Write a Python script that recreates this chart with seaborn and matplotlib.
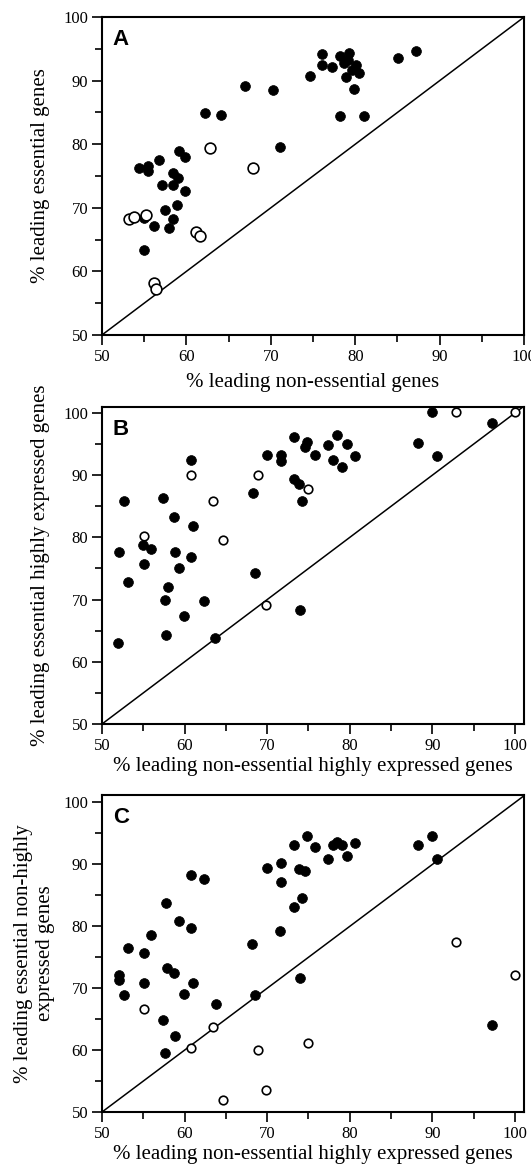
import matplotlib
matplotlib.use("Agg")
import matplotlib.pyplot as plt
from matplotlib.ticker import MultipleLocator
import seaborn as sns

sns.set_theme(style="ticks")
plt.rcParams['font.family'] = ['Liberation Serif', 'DejaVu Serif']

# ---------------- Panel A ----------------
a_fill_x = [66.9, 70.3, 62.2, 64.1, 71.1, 54.4, 55.5, 55.5, 56.8, 59.1, 59.8, 58.4, 59.0, 58.4,
            57.1, 59.8, 58.9, 57.5, 58.4, 55.0, 56.2, 57.9, 55.0,
            76.1, 78.2, 79.3, 76.1, 77.2, 78.7, 79.1, 80.1, 79.6, 78.9, 80.5, 74.7, 79.9,
            78.2, 81.0, 85.1, 87.2]
a_fill_y = [89.1, 88.6, 84.9, 84.6, 79.6, 76.3, 76.6, 75.8, 77.5, 78.9, 78.0, 75.5, 74.7, 73.6,
            73.6, 72.7, 70.5, 69.7, 68.3, 68.4, 67.2, 66.9, 63.3,
            94.2, 93.8, 94.4, 92.5, 92.2, 92.8, 93.3, 92.5, 91.7, 90.6, 91.2, 90.8, 88.7,
            84.5, 84.5, 93.5, 94.7]
a_open_x = [62.8, 67.9, 53.2, 53.8, 55.2, 61.1, 61.6, 56.2, 56.4]
a_open_y = [79.4, 76.3, 68.3, 68.5, 68.9, 66.2, 65.5, 58.1, 57.2]

# ---------------- Panel B ----------------
b_fill_x = [60.8, 70.0, 71.7, 71.7, 52.7, 57.4, 68.3, 58.7, 61.0, 52.1, 55.0, 55.9, 58.9, 60.8,
            55.1, 59.3, 53.1, 58.0, 68.5, 57.6, 62.4, 59.9, 57.8, 52.0, 63.7,
            89.9, 97.2, 73.3, 74.8, 74.6, 77.4, 78.4, 79.7, 75.8, 78.0, 80.6, 79.0, 88.2,
            90.6, 73.3, 73.8, 74.2, 74.0]
b_fill_y = [92.4, 93.2, 93.2, 92.2, 85.9, 86.4, 87.2, 83.3, 81.9, 77.6, 78.7, 78.2, 77.6, 76.8,
            75.7, 75.1, 72.8, 72.0, 74.2, 70.0, 69.7, 67.4, 64.3, 63.1, 63.8,
            100.1, 98.4, 96.1, 95.3, 94.6, 94.9, 96.4, 95.0, 93.3, 92.5, 93.0, 91.3, 95.1,
            93.0, 89.4, 88.5, 85.9, 68.3]
b_open_x = [60.8, 68.9, 63.5, 55.1, 64.6, 69.8, 92.9, 100.0, 75.0]
b_open_y = [90.1, 90.1, 85.9, 80.3, 79.6, 69.2, 100.1, 100.1, 87.7]

# ---------------- Panel C ----------------
c_fill_x = [60.8, 62.4, 70.0, 71.7, 71.7, 71.5, 68.2, 68.5, 57.8, 59.3, 60.8, 55.9, 53.1, 55.1,
            57.9, 58.7, 52.1, 52.1, 55.1, 61.0, 52.7, 59.9, 63.8, 57.4, 58.9, 57.6,
            74.8, 73.3, 75.8, 78.0, 78.5, 79.0, 80.6, 77.4, 79.7, 88.2, 89.9, 90.6,
            73.8, 74.6, 74.2, 73.3, 74.0, 97.2]
c_fill_y = [88.3, 87.7, 89.4, 90.3, 87.1, 79.2, 77.2, 68.9, 83.7, 80.9, 79.8, 78.6, 76.5, 75.7,
            73.2, 72.5, 72.1, 71.3, 70.9, 70.9, 68.9, 69.1, 67.4, 64.9, 62.3, 59.5,
            94.6, 93.1, 92.8, 93.1, 93.6, 93.1, 93.4, 90.8, 91.4, 93.1, 94.6, 90.8,
            89.2, 88.9, 84.6, 83.1, 71.6, 64.1]
c_open_x = [55.1, 63.5, 60.8, 68.9, 69.8, 64.6, 92.9, 100.0, 75.0]
c_open_y = [66.6, 63.7, 60.3, 60.1, 53.5, 52.0, 77.5, 72.1, 61.2]

panels = [
    dict(letter="A", fx=a_fill_x, fy=a_fill_y, ox=a_open_x, oy=a_open_y,
         xlabel="% leading non-essential genes",
         ylabel="% leading essential genes", xmax=100.0, ymax=100.0,
         pos=[0.192, 0.7132, 0.795, 0.2722], open_s=60, xl_y=-0.12, yl_x=-0.122),
    dict(letter="B", fx=b_fill_x, fy=b_fill_y, ox=b_open_x, oy=b_open_y,
         xlabel="% leading non-essential highly expressed genes",
         ylabel="% leading essential highly expressed genes", xmax=101.1, ymax=101.0,
         pos=[0.192, 0.3801, 0.795, 0.2717], open_s=38, xl_y=-0.105, yl_x=-0.122),
    dict(letter="C", fx=c_fill_x, fy=c_fill_y, ox=c_open_x, oy=c_open_y,
         xlabel="% leading non-essential highly expressed genes",
         ylabel="% leading essential non-highly\nexpressed genes", xmax=101.1, ymax=101.2,
         pos=[0.192, 0.0479, 0.795, 0.2714], open_s=38, xl_y=-0.105, yl_x=-0.112),
]

fig = plt.figure(figsize=(5.31, 11.68), dpi=100)
for p in panels:
    ax = fig.add_axes(p["pos"])
    ax.axline((50, 50), slope=1, color="black", lw=1.1, zorder=1)
    sns.scatterplot(x=p["fx"], y=p["fy"], ax=ax, color="black", edgecolor="black",
                    s=50, linewidth=0.5, zorder=3)
    sns.scatterplot(x=p["ox"], y=p["oy"], ax=ax, color="white", edgecolor="black",
                    s=p["open_s"], linewidth=1.2, zorder=4)
    ax.set_xlim(50, p["xmax"])
    ax.set_ylim(50, p["ymax"])
    ax.xaxis.set_major_locator(MultipleLocator(10))
    ax.yaxis.set_major_locator(MultipleLocator(10))
    ax.xaxis.set_minor_locator(MultipleLocator(5))
    ax.yaxis.set_minor_locator(MultipleLocator(5))
    ax.tick_params(which="both", direction="out", width=1.2, color="black")
    ax.tick_params(which="major", length=7, labelsize=12, pad=3, labelcolor="black")
    ax.tick_params(which="minor", length=5)
    for sp in ax.spines.values():
        sp.set_visible(True)
        sp.set_linewidth(1.5)
        sp.set_color("black")
    ax.set_xlabel(p["xlabel"], fontsize=15, color="black")
    ax.set_ylabel(p["ylabel"], fontsize=15, color="black", linespacing=1.2)
    ax.xaxis.set_label_coords(0.5, p["xl_y"])
    ax.yaxis.set_label_coords(p["yl_x"], 0.5)
    ax.text(0.026, 0.962, p["letter"], transform=ax.transAxes, ha="left", va="top",
            fontsize=16, fontweight="bold", family=["Liberation Sans", "DejaVu Sans"],
            color="black")
    ax.grid(False)

fig.savefig("out.png", dpi=100, facecolor="white")
